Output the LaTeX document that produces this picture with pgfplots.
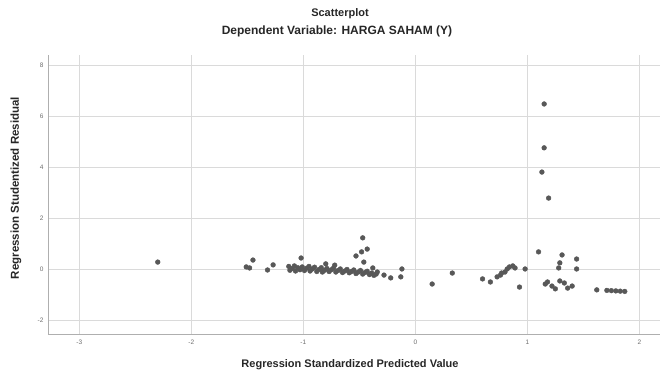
\documentclass[border=0pt]{standalone}
\usepackage{pgfplots}
\pgfplotsset{compat=1.18}
\usetikzlibrary{calc}
\usepackage{fontspec}
\setmainfont{Liberation Sans}
\definecolor{ptc}{RGB}{88,88,88}
\definecolor{gridc}{RGB}{218,218,218}
\definecolor{framec}{RGB}{175,175,175}
\definecolor{tickc}{RGB}{110,110,110}
\begin{document}
\begin{tikzpicture}
\begin{axis}[
  name=ax,
  scale only axis, width=611.5pt, height=279pt,
  xmin=-3.28, xmax=2.18, ymin=-2.55, ymax=8.39,
  xtick={-3,-2,-1,0,1,2}, ytick={-2,0,2,4,6,8},
  grid=major, major grid style={gridc, line width=0.8pt},
  axis line style={framec, line width=0.8pt},
  axis x line*=bottom, axis y line*=left,
  tick style={draw=none},
  ticklabel style={font=\fontsize{6.5}{7}\selectfont, text=tickc},
  /pgf/number format/assume math mode=true,
  xticklabel style={yshift=-2pt},
  yticklabel style={xshift=-1pt},
  clip=false,
]
\addplot[only marks, mark=*, mark size=2.4pt, mark options={fill=ptc, draw=ptc}] coordinates {
(-2.30,0.27)
(-1.51,0.08) (-1.48,0.04) (-1.45,0.35) (-1.32,-0.04) (-1.27,0.16) (-1.02,0.43)
(-1.13,0.10) (-1.12,-0.05) (-1.10,0.02) (-1.08,0.12) (-1.07,-0.08) (-1.05,0.05)
(-1.03,-0.03) (-1.01,0.08) (-0.99,-0.06) (-0.97,0.03) (-0.95,0.10) (-0.94,-0.08)
(-0.92,0.00) (-0.90,0.07) (-0.88,-0.10) (-0.86,-0.02) (-0.84,0.05) (-0.83,-0.12)
(-0.81,-0.05) (-0.80,0.20) (-0.79,0.02) (-0.77,-0.10) (-0.75,-0.03) (-0.73,0.04)
(-0.72,0.15) (-0.71,-0.12) (-0.69,-0.06) (-0.67,0.00) (-0.65,-0.14) (-0.63,-0.08)
(-0.61,-0.02) (-0.59,-0.15) (-0.57,-0.10) (-0.55,-0.04) (-0.53,-0.18) (-0.51,-0.12)
(-0.49,-0.06) (-0.47,-0.20) (-0.45,-0.14) (-0.43,-0.09) (-0.41,-0.22) (-0.39,-0.16)
(-0.37,-0.25) (-0.35,-0.20) (-0.34,-0.12)
(-0.47,1.22) (-0.43,0.78) (-0.48,0.67) (-0.53,0.51) (-0.46,0.27) (-0.38,0.04)
(-0.28,-0.24) (-0.22,-0.35) (-0.12,0.00) (-0.13,-0.31)
(0.15,-0.59) (0.33,-0.16) (0.60,-0.39) (0.67,-0.51) (0.73,-0.31) (0.77,-0.16)
(0.82,0.00) (0.84,0.08) (0.89,0.04) (0.87,0.12) (0.80,-0.12) (0.76,-0.24)
(0.98,0.00) (0.93,-0.71)
(1.10,0.67) (1.31,0.55) (1.29,0.24) (1.28,0.04) (1.44,0.39) (1.44,0.00)
(1.16,-0.59) (1.22,-0.67) (1.18,-0.51) (1.29,-0.47) (1.33,-0.55) (1.36,-0.75)
(1.40,-0.67) (1.25,-0.78) (1.62,-0.82)
(1.71,-0.84) (1.75,-0.85) (1.79,-0.86) (1.83,-0.87) (1.87,-0.88)
(1.15,6.47) (1.15,4.75) (1.13,3.80) (1.19,2.78)
};
\end{axis}
\coordinate (O) at ($(ax.south west)+(-48pt,-38pt)$);
\tikzset{lbl/.style={font=\fontsize{12}{14}\selectfont\bfseries, text=black!85}}
\node[lbl, font=\fontsize{11}{13}\selectfont\bfseries] at ($(O)+(340pt,358pt)$) {Scatterplot};
\node[lbl] at ($(O)+(337pt,341pt)$) {Dependent Variable: HARGA SAHAM (Y)};
\node[lbl, font=\fontsize{11.5}{13}\selectfont\bfseries, rotate=90] at ($(O)+(16pt,184pt)$) {Regression Studentized Residual};
\node[lbl, font=\fontsize{11}{13}\selectfont\bfseries] at ($(O)+(350pt,7pt)$) {Regression Standardized Predicted Value};
\pgfresetboundingbox
\path[use as bounding box] (O) rectangle ($(O)+(662pt,372pt)$);
\end{tikzpicture}
\end{document}
